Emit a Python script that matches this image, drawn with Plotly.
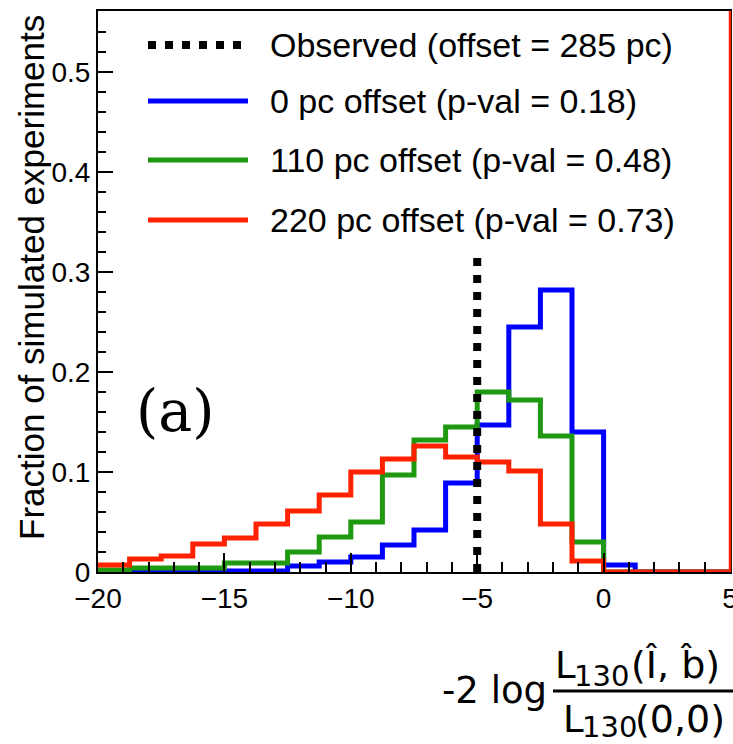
import plotly.graph_objects as go

# Bin edges of the histograms (x axis)
edges = [-20, -18.75, -17.5, -16.25, -15, -13.75, -12.5, -11.25, -10, -8.75,
         -7.5, -6.25, -5, -3.75, -2.5, -1.25, 0, 1.25, 2.5, 3.75, 5]

# Fraction of simulated experiments per bin
blue_0pc = [0, 0, 0, 0.001, 0.001, 0.001, 0.006, 0.010, 0.015, 0.027,
            0.042, 0.089, 0.147, 0.245, 0.282, 0.140, 0.007, 0, 0, 0]
green_110pc = [0.002, 0.004, 0.004, 0.004, 0.009, 0.009, 0.020, 0.035, 0.050, 0.097,
               0.132, 0.145, 0.180, 0.172, 0.136, 0.030, 0, 0, 0, 0]
red_220pc = [0.007, 0.013, 0.016, 0.028, 0.034, 0.048, 0.061, 0.077, 0.100, 0.113,
             0.126, 0.115, 0.110, 0.101, 0.048, 0.011, 0, 0, 0, 0]

observed_x = -5
observed_top = 0.318

legend_labels = ["Observed (offset = 285 pc)",
                 "0 pc offset (p-val = 0.18)",
                 "110 pc offset (p-val = 0.48)",
                 "220 pc offset (p-val = 0.73)"]

x_ticks = [-20, -15, -10, -5, 0, 5]
y_ticks = [0, 0.1, 0.2, 0.3, 0.4, 0.5]

BLUE = "#0000ff"
GREEN = "#1f9a10"
RED = "#ff2200"
FONT = "Liberation Sans, Arial, sans-serif"
TFONT = "DejaVu Sans, sans-serif"

fig = go.Figure()
for vals, col in [(blue_0pc, BLUE), (green_110pc, GREEN), (red_220pc, RED)]:
    fig.add_trace(go.Scatter(x=edges, y=vals + [vals[-1]], mode="lines",
                             line=dict(color=col, width=5, shape="hv"),
                             showlegend=False, hoverinfo="skip"))

fig.add_trace(go.Scatter(x=[observed_x, observed_x], y=[0, observed_top], mode="lines",
                         line=dict(color="black", width=8, dash="8px,9px"),
                         showlegend=False, hoverinfo="skip"))

# Manual legend (long line samples like the original)
L, T, W, H = 98, 11, 632, 561
def px(x):
    return (x - L) / W
def py(y):
    return (T + H - y) / H

rows = [45, 101, 160, 220]
styles = [("black", "8px,9px", 8), (BLUE, "solid", 5), (GREEN, "solid", 5), (RED, "solid", 5)]
shapes = []
annotations = []
for r, (c, d, w), lab in zip(rows, styles, legend_labels):
    shapes.append(dict(type="line", xref="paper", yref="paper", x0=px(148), x1=px(248),
                       y0=py(r), y1=py(r), line=dict(color=c, width=w, dash=d)))
    annotations.append(dict(text=lab, xref="paper", yref="paper", x=px(268), y=py(r),
                            xanchor="left", yanchor="middle", showarrow=False,
                            font=dict(family=FONT, size=34, color="black")))

# red right frame
shapes.append(dict(type="line", xref="paper", yref="paper", x0=1, x1=1, y0=0, y1=1,
                   line=dict(color=RED, width=2.5)))

# (a) label
annotations.append(dict(text="(a)", xref="paper", yref="paper", x=px(175), y=py(411),
                        xanchor="center", yanchor="middle", showarrow=False,
                        font=dict(family="DejaVu Serif, serif", size=57, color="black")))

# y title
annotations.append(dict(text="Fraction of simulated experiments", xref="paper", yref="paper",
                        x=px(31), y=py(278), xanchor="center", yanchor="middle",
                        textangle=-90, showarrow=False,
                        font=dict(family=FONT, size=35, color="black")))

# x title as a fraction:  -2 log  L_130(Î, b̂) / L_130(0,0)
def title_part(text, x, y, size, anchor="left"):
    annotations.append(dict(text=text, xref="paper", yref="paper", x=px(x), y=py(y),
                            xanchor=anchor, yanchor="middle", showarrow=False,
                            borderpad=0,
                            font=dict(family=TFONT, size=size, color="black")))

title_part("-2 log", 548, 690, 37, "right")
title_part("L", 554, 665, 37)
title_part("130", 573, 676, 29)
title_part("(Î, b̂)", 630, 665, 38)
title_part("L", 562, 719, 37)
title_part("130", 581, 727, 29)
title_part("(0,0)", 634, 719, 38)
shapes.append(dict(type="line", xref="paper", yref="paper", x0=px(553), x1=px(735),
                   y0=py(691), y1=py(691), line=dict(color="black", width=3)))

fig.update_layout(
    width=733, height=744,
    margin=dict(l=98, r=3, t=11, b=172),
    paper_bgcolor="white", plot_bgcolor="white",
    shapes=shapes, annotations=annotations,
    font=dict(family=FONT, size=28, color="black"),
)
fig.update_xaxes(range=[-20, 5], tickvals=x_ticks, ticks="inside", ticklen=19, tickwidth=2,
                 tickcolor="black", showgrid=False, zeroline=False, showline=True,
                 linecolor="black", linewidth=2, mirror=True, ticklabeloverflow="allow",
                 automargin=False,
                 minor=dict(dtick=1, ticks="inside", ticklen=10, tickwidth=1.5, tickcolor="black"),
                 tickfont=dict(family=FONT, size=28, color="black"))
fig.update_yaxes(range=[0, 0.561], tickvals=y_ticks, ticks="inside", ticklen=15, tickwidth=2,
                 tickcolor="black", showgrid=False, zeroline=False, showline=True,
                 linecolor="black", linewidth=2, mirror=True, ticklabeloverflow="allow",
                 automargin=False,
                 minor=dict(dtick=0.02, ticks="inside", ticklen=8, tickwidth=1.5, tickcolor="black"),
                 tickfont=dict(family=FONT, size=28, color="black"))

fig.write_html("out.html")
